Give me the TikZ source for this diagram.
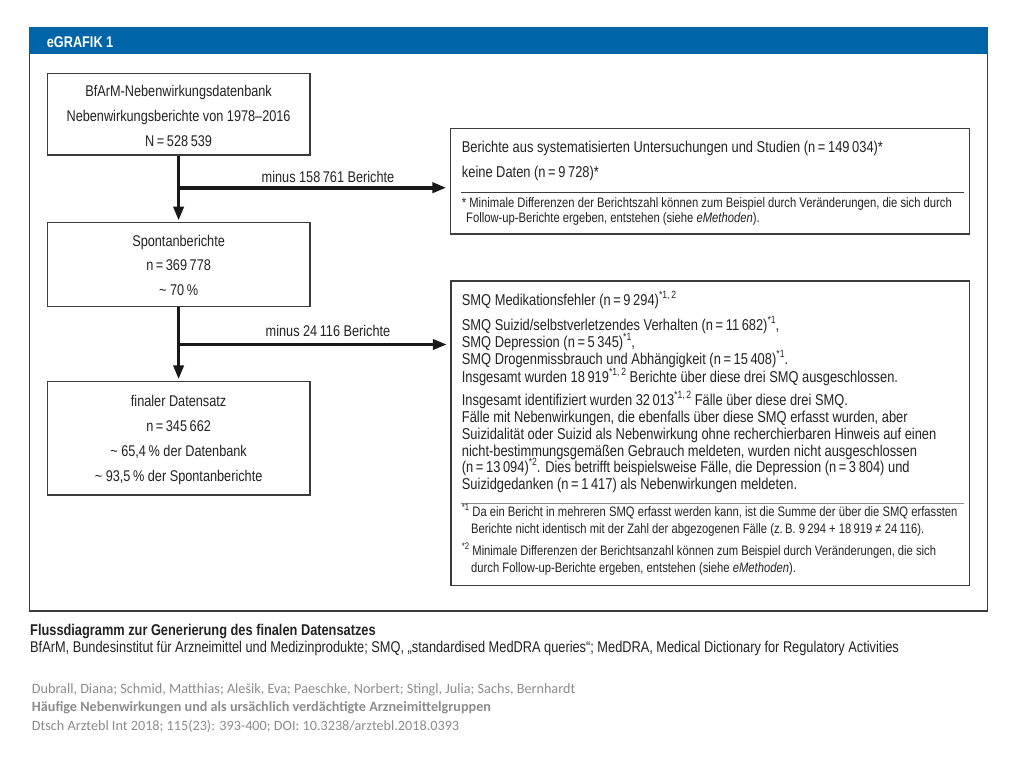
\documentclass[tikz,border=0pt]{standalone}
\usepackage{fontspec}
\setmainfont{Liberation Sans}[FakeStretch=0.82]
\newfontfamily\citefont{Carlito}
\usetikzlibrary{arrows.meta}
\definecolor{hdrblue}{RGB}{0,101,168}
\definecolor{framegray}{RGB}{60,60,60}
\definecolor{citegray}{RGB}{140,140,140}
\definecolor{txtgray}{RGB}{35,35,35}
\newcommand\boxsize{\fontsize{15.5}{17}\selectfont}
\newcommand\rsize{\fontsize{15.7}{17}\selectfont}
\newcommand\fnsize{\fontsize{13.7}{15}\selectfont}
\newcommand\supx[1]{\raisebox{0.42em}{\fontsize{10.5}{10}\selectfont #1}}
\newcommand\supf[1]{\raisebox{0.42em}{\fontsize{9.5}{9}\selectfont #1}}
\begin{document}
\begin{tikzpicture}[x=1pt,y=-1pt,
  box/.style={draw=framegray,line width=1.2pt,inner sep=0pt},
  ctxt/.style={anchor=base,inner sep=0pt,font=\boxsize,text=txtgray},
  rtxt/.style={anchor=base west,inner sep=0pt,font=\rsize,text=txtgray},
  ftxt/.style={anchor=base west,inner sep=0pt,font=\fnsize,text=txtgray},
  flow/.style={line width=3.6pt,draw=black!90,-{Triangle[length=14pt,width=10pt]}},
  sepline/.style={draw=framegray,line width=0.9pt}]
\useasboundingbox (0,0) rectangle (1024,768);
\fill[white] (0,0) rectangle (1024,768);
% frame and header
\node[draw=framegray,line width=1.8pt,minimum width=958pt,minimum height=583pt,inner sep=0pt] (frame) at (508.5,319.5) {};
\fill[hdrblue] (frame.north west) rectangle (988,54.3);
\node[anchor=base west,inner sep=0pt,text=white,font=\fontsize{15.5}{17}\selectfont\bfseries] (hdr) at (46.7,47.7) {eGRAFIK 1};
% left boxes
\node[box,minimum width=262.7pt,minimum height=81.7pt] (b1) at (178.6,114.2) {};
\node[box,minimum width=262.7pt,minimum height=84pt] (b2) at (178.6,264.7) {};
\node[box,minimum width=262.7pt,minimum height=113.5pt] (b3) at (178.6,438.2) {};
\node[ctxt] (b1a) at (178.6,96) {BfArM-Nebenwirkungsdatenbank};
\node[ctxt] (b1b) at (178.6,121) {Nebenwirkungsberichte von 1978–2016};
\node[ctxt] (b1c) at (178.6,146) {N\,=\,528\,539};
\node[ctxt] (b2a) at (178.6,246) {Spontanberichte};
\node[ctxt] (b2b) at (178.6,270.5) {n\,=\,369\,778};
\node[ctxt] (b2c) at (178.6,295) {\textasciitilde\ 70\,\%};
\node[ctxt] (b3a) at (178.6,406.5) {finaler Datensatz};
\node[ctxt] (b3b) at (178.6,431.5) {n\,=\,345\,662};
\node[ctxt] (b3c) at (178.6,456.5) {\textasciitilde\ 65,4\,\% der Datenbank};
\node[ctxt] (b3d) at (178.6,481.5) {\textasciitilde\ 93,5\,\% der Spontanberichte};
% right boxes
\node[box,minimum width=519pt,minimum height=105.7pt] (r1) at (710,181.2) {};
\node[box,minimum width=518.5pt,minimum height=304.5pt] (r2) at (710.2,433.2) {};
% connectors
\draw[flow,shorten >=1.5pt] (b1.south) -- (b2.north);
\draw[flow,shorten >=1.5pt] (b2.south) -- (b3.north);
\coordinate (j1) at (178.6,187.7);
\coordinate (j2) at (178.6,344.5);
\draw[flow,shorten >=3.5pt] (j1) -- (j1 -| r1.west);
\draw[flow,shorten >=3.5pt] (j2) -- (j2 -| r2.west);
\node[ctxt] (m1) at (328,182.5) {minus 158\,761 Berichte};
\node[ctxt] (m2) at (328,336.7) {minus 24\,116 Berichte};
% right box 1 text
\node[rtxt] (r1a) at (461.7,152.5) {Berichte aus systematisierten Untersuchungen und Studien (n\,=\,149\,034)*};
\node[rtxt] (r1b) at (461.7,177) {keine Daten (n\,=\,9\,728)*};
\coordinate (s1a) at (460.7,192);
\coordinate (s1b) at (963.5,192);
\draw[sepline] (s1a) -- (s1b);
\node[ftxt] (r1c) at (461.7,207.5) {* Minimale Differenzen der Berichtszahl können zum Beispiel durch Veränderungen, die sich durch};
\node[ftxt] (r1d) at (466,222) {Follow-up-Berichte ergeben, entstehen (siehe \textit{eMethoden}).};
% right box 2 text
\node[rtxt] (r2a) at (461.7,305.5) {SMQ Medikationsfehler (n\,=\,9\,294)\supx{*1,\,2}};
\node[rtxt] (r2b) at (461.7,330.5) {SMQ Suizid/selbstverletzendes Verhalten (n\,=\,11\,682)\supx{*1},};
\node[rtxt] (r2c) at (461.7,347.5) {SMQ Depression (n\,=\,5\,345)\supx{*1},};
\node[rtxt] (r2d) at (461.7,364.5) {SMQ Drogenmissbrauch und Abhängigkeit (n\,=\,15\,408)\supx{*1}.};
\node[rtxt] (r2e) at (461.7,382) {Insgesamt wurden 18\,919\supx{*1,\,2} Berichte über diese drei SMQ ausgeschlossen.};
\node[rtxt] (r2f) at (461.7,405) {Insgesamt identifiziert wurden 32\,013\supx{*1,\,2} Fälle über diese drei SMQ.};
\node[rtxt] (r2g) at (461.7,422) {Fälle mit Nebenwirkungen, die ebenfalls über diese SMQ erfasst wurden, aber};
\node[rtxt] (r2h) at (461.7,439) {Suizidalität oder Suizid als Nebenwirkung ohne recherchierbaren Hinweis auf einen};
\node[rtxt] (r2i) at (461.7,456) {nicht-bestimmungsgemäßen Gebrauch meldeten, wurden nicht ausgeschlossen};
\node[rtxt] (r2j) at (461.7,472.5) {(n\,=\,13\,094)\supx{*2}. Dies betrifft beispielsweise Fälle, die Depression (n\,=\,3\,804) und};
\node[rtxt] (r2k) at (461.7,489.5) {Suizidgedanken (n\,=\,1\,417) als Nebenwirkungen meldeten.};
\coordinate (s2a) at (460.7,503);
\coordinate (s2b) at (963.5,503);
\draw[sepline,draw=black!45] (s2a) -- (s2b);
\node[ftxt] (r2l) at (461.7,516.5) {\supf{*1} Da ein Bericht in mehreren SMQ erfasst werden kann, ist die Summe der über die SMQ erfassten};
\node[ftxt] (r2m) at (471,533.5) {Berichte nicht identisch mit der Zahl der abgezogenen Fälle (z.\,B. 9\,294 + 18\,919 ≠ 24\,116).};
\node[ftxt] (r2n) at (461.7,555.5) {\supf{*2} Minimale Differenzen der Berichtsanzahl können zum Beispiel durch Veränderungen, die sich};
\node[ftxt] (r2o) at (471,572.5) {durch Follow-up-Berichte ergeben, entstehen (siehe \textit{eMethoden}).};
% caption
\node[anchor=base west,inner sep=0pt,font=\fontsize{15.6}{17}\selectfont\bfseries,text=txtgray] (cap1) at (30,635) {Flussdiagramm zur Generierung des finalen Datensatzes};
\node[anchor=base west,inner sep=0pt,font=\fontsize{15.6}{17}\selectfont,text=txtgray] (cap2) at (30,652.7) {BfArM, Bundesinstitut für Arzneimittel und Medizinprodukte; SMQ, „standardised MedDRA queries“; MedDRA, Medical Dictionary for Regulatory Activities};
% citation
\node[anchor=base west,inner sep=0pt,font=\citefont\fontsize{14.2}{16}\selectfont,text=citegray] (c1) at (31.7,693) {Dubrall, Diana; Schmid, Matthias; Alešik, Eva; Paeschke, Norbert; Stingl, Julia; Sachs, Bernhardt};
\node[anchor=base west,inner sep=0pt,font=\citefont\fontsize{14.2}{16}\selectfont\bfseries,text=citegray] (c2) at (31.7,711.7) {Häufige Nebenwirkungen und als ursächlich verdächtigte Arzneimittelgruppen};
\node[anchor=base west,inner sep=0pt,font=\citefont\fontsize{14.2}{16}\selectfont,text=citegray] (c3) at (31.7,730.5) {Dtsch Arztebl Int 2018; 115(23): 393-400; DOI: 10.3238/arztebl.2018.0393};
\end{tikzpicture}
\end{document}
